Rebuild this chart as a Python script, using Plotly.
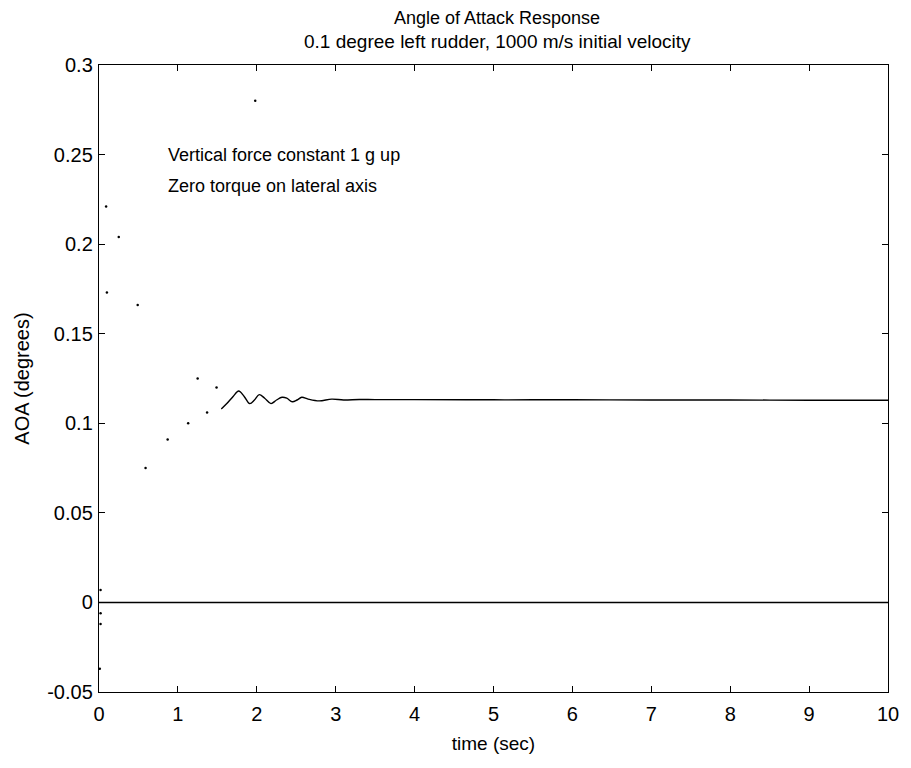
import plotly.graph_objects as go

# Sparse samples of the fast initial AOA transient (only isolated points render)
t_transient = [0.02, 0.02, 0.02, 0.01, 0.09, 0.25, 0.10, 0.49, 0.59, 0.87,
               1.13, 1.25, 1.37, 1.49, 1.98]
aoa_transient = [0.007, -0.006, -0.012, -0.037, 0.221, 0.204, 0.173, 0.166,
                 0.075, 0.091, 0.100, 0.125, 0.106, 0.120, 0.280]

# Settling AOA oscillation and steady state
t_aoa = [1.55, 1.62, 1.70, 1.77, 1.84, 1.91, 1.97, 2.03, 2.10, 2.18, 2.25,
         2.32, 2.38, 2.45, 2.51, 2.57, 2.65, 2.79, 2.95, 3.10, 3.30, 3.50,
         4.0, 5.0, 6.0, 7.0, 8.0, 9.0, 10.0]
aoa = [0.108, 0.111, 0.115, 0.118, 0.115, 0.111, 0.113, 0.116, 0.114, 0.111,
       0.113, 0.1145, 0.114, 0.112, 0.113, 0.1145, 0.1135, 0.1125, 0.1135,
       0.113, 0.1133, 0.1132, 0.1132, 0.1131, 0.1131, 0.113, 0.113, 0.1129,
       0.1129]

# Zero-level trace
t_zero = [0.0, 10.0]
zero_trace = [0.0, 0.0]

x_ticks = [0, 1, 2, 3, 4, 5, 6, 7, 8, 9, 10]
y_ticks = [-0.05, 0, 0.05, 0.1, 0.15, 0.2, 0.25, 0.3]
y_tick_text = ["-0.05", "0", "0.05", "0.1", "0.15", "0.2", "0.25", "0.3"]

title_lines = ["Angle of Attack Response",
               "0.1 degree left rudder, 1000 m/s initial velocity"]
note_lines = ["Vertical force constant 1 g up", "Zero torque on lateral axis"]

font_family = "Liberation Sans, Arial, Helvetica, sans-serif"

fig = go.Figure()
fig.add_trace(go.Scatter(x=t_zero, y=zero_trace, mode="lines",
                         line=dict(color="black", width=1.6),
                         showlegend=False, hoverinfo="skip"))
fig.add_trace(go.Scatter(x=t_aoa, y=aoa, mode="lines",
                         line=dict(color="black", width=1.4, shape="spline"),
                         showlegend=False))
fig.add_trace(go.Scatter(x=t_transient, y=aoa_transient, mode="markers",
                         marker=dict(color="black", size=2.5),
                         showlegend=False))

# Two-line title above the axes
for text, ypos, size in zip(title_lines, [1.075, 1.0367], [18, 19]):
    fig.add_annotation(x=0.505, y=ypos, xref="paper", yref="paper",
                       xanchor="center", yanchor="middle", showarrow=False,
                       text=text,
                       font=dict(size=size, color="black", family=font_family))

# Notes inside the axes
for text, ypos in zip(note_lines, [0.2495, 0.2325]):
    fig.add_annotation(x=0.85, y=ypos, xref="x", yref="y", xanchor="left",
                       yanchor="middle", showarrow=False, text=text,
                       font=dict(size=18, color="black", family=font_family))

fig.update_layout(
    width=911, height=768,
    margin=dict(l=99, r=16, t=65, b=76),
    paper_bgcolor="white", plot_bgcolor="white",
    font=dict(family=font_family, size=18, color="black"),
    xaxis=dict(
        range=[0, 10], tickvals=x_ticks, ticktext=[str(v) for v in x_ticks],
        showgrid=False, zeroline=False, showline=True, linecolor="black",
        linewidth=1.4, mirror="ticks", ticks="inside", ticklen=6,
        tickcolor="black", tickfont=dict(size=20), ticklabelstandoff=4,
        title=dict(text="time (sec)", font=dict(size=19), standoff=12),
    ),
    yaxis=dict(
        range=[-0.05, 0.3], tickvals=y_ticks, ticktext=y_tick_text,
        showgrid=False, zeroline=False, showline=True, linecolor="black",
        linewidth=1.4, mirror="ticks", ticks="inside", ticklen=6,
        tickcolor="black", tickfont=dict(size=20), ticklabelstandoff=1,
        title=dict(text="AOA (degrees)", font=dict(size=20), standoff=12),
    ),
)

fig.write_html("out.html")
